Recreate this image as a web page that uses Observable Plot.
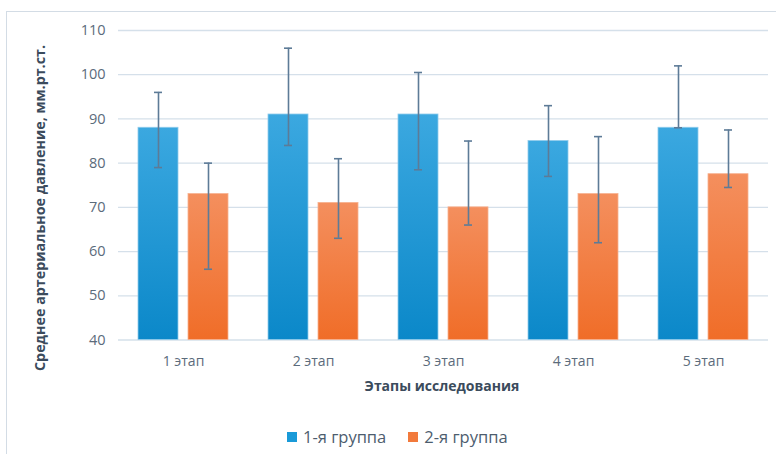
<!DOCTYPE html>
<html><head><meta charset="utf-8">
<script src="https://cdn.jsdelivr.net/npm/d3@7"></script>
<script src="https://cdn.jsdelivr.net/npm/@observablehq/plot@0.6"></script>
<style>
html,body{margin:0;padding:0;background:#fff;overflow:hidden;width:776px;height:454px;font-family:"Open Sans",sans-serif;}
#frame{position:absolute;left:6px;top:11px;width:800px;height:470px;border:1px solid #d3dce5;box-sizing:border-box;}
#chart{position:absolute;left:0;top:0;}
#ytitle{position:absolute;left:39px;top:208px;transform:translate(-50%,-50%) rotate(-90deg);white-space:nowrap;font-weight:700;font-size:14.3px;color:#3b4b5c;}
#xtitle{position:absolute;left:442px;top:385px;transform:translate(-50%,-50%);white-space:nowrap;font-weight:700;font-size:14px;color:#3b4b5c;}
#legend{position:absolute;left:287px;top:425px;display:flex;align-items:center;font-size:16.5px;color:#4d5d6e;}
#legend .sw{display:inline-block;width:10px;height:10px;margin-right:6px;}
#legend .it{display:flex;align-items:center;margin-right:22px;}
</style>
</head><body>
<div id="frame"></div>
<div id="chart"></div>
<div id="ytitle"></div>
<div id="xtitle"></div>
<div id="legend"></div>
<script>
const stages = ["1 этап", "2 этап", "3 этап", "4 этап", "5 этап"];
const groups = ["1-я группа", "2-я группа"];
const mean1 = [88, 91, 91, 85, 88];
const low1  = [79, 84, 78.5, 77, 88];
const high1 = [96, 106, 100.5, 93, 102];
const mean2 = [73, 71, 70, 73, 77.5];
const low2  = [56, 63, 66, 62, 74.5];
const high2 = [80, 81, 85, 86, 87.5];
const yTicks = [40, 50, 60, 70, 80, 90, 100, 110];
const yTitle = "Среднее артериальное давление, мм.рт.ст.";
const xTitle = "Этапы исследования";
const groupColors = ["#1a9ad8", "#f27a3c"];

const rows = [];
stages.forEach((s, i) => {
  rows.push({stage: s, group: groups[0], mean: mean1[i], lo: low1[i], hi: high1[i]});
  rows.push({stage: s, group: groups[1], mean: mean2[i], lo: low2[i], hi: high2[i]});
});

const NS = "http://www.w3.org/2000/svg";
function defs() {
  const d = document.createElementNS(NS, "defs");
  const mk = (id, top, bottom) => {
    const g = document.createElementNS(NS, "linearGradient");
    g.setAttribute("id", id);
    g.setAttribute("x1", "0"); g.setAttribute("y1", "0");
    g.setAttribute("x2", "0"); g.setAttribute("y2", "1");
    const a = document.createElementNS(NS, "stop");
    a.setAttribute("offset", "0"); a.setAttribute("stop-color", top);
    const b = document.createElementNS(NS, "stop");
    b.setAttribute("offset", "1"); b.setAttribute("stop-color", bottom);
    g.appendChild(a); g.appendChild(b); d.appendChild(g);
  };
  mk("gBlue", "#3ba8e0", "#0b88c9");
  mk("gOrange", "#f48f5e", "#f06d28");
  return d;
}

const errColor = "#5d7b97";
const chart = Plot.plot({
  width: 776,
  height: 400,
  marginLeft: 117,
  marginRight: 8,
  marginTop: 30,
  marginBottom: 60.5,
  style: {fontFamily: "'Open Sans', sans-serif", color: "#5b6b7b", background: "transparent"},
  fx: {domain: stages, padding: 0, label: null, axis: null},
  x: {domain: groups, paddingInner: 0.2, paddingOuter: 0.4, axis: null},
  y: {domain: [yTicks[0], yTicks[yTicks.length - 1]], axis: null},
  marks: [
    defs,
    Plot.gridY(yTicks, {stroke: "#d5e0ea", strokeOpacity: 1, strokeWidth: 1.3}),
    Plot.barY(rows.filter(d => d.group === groups[0]), {fx: "stage", x: "group", y1: yTicks[0], y2: "mean", fill: "url(#gBlue)", stroke: "#8fcbeb", strokeWidth: 0.8}),
    Plot.barY(rows.filter(d => d.group === groups[1]), {fx: "stage", x: "group", y1: yTicks[0], y2: "mean", fill: "url(#gOrange)", stroke: "#f7b18f", strokeWidth: 0.8}),
    Plot.ruleX(rows, {fx: "stage", x: "group", y1: "lo", y2: "hi", stroke: errColor, strokeWidth: 1.6}),
    Plot.tickY(rows, {fx: "stage", x: "group", y: "hi", stroke: errColor, strokeWidth: 1.6, insetLeft: 16, insetRight: 16}),
    Plot.tickY(rows, {fx: "stage", x: "group", y: "lo", stroke: errColor, strokeWidth: 1.6, insetLeft: 16, insetRight: 16}),
    Plot.axisY({ticks: yTicks, tickSize: 0, tickPadding: 13, fontSize: 14.5, label: null}),
    Plot.axisFx({anchor: "bottom", tickSize: 0, tickPadding: 16, fontSize: 14, label: null})
  ]
});
document.getElementById("chart").appendChild(chart);
document.getElementById("ytitle").textContent = yTitle;
document.getElementById("xtitle").textContent = xTitle;
const leg = document.getElementById("legend");
groups.forEach((g, i) => {
  const it = document.createElement("span");
  it.className = "it";
  const sw = document.createElement("span");
  sw.className = "sw";
  sw.style.background = groupColors[i];
  it.appendChild(sw);
  it.appendChild(document.createTextNode(g));
  leg.appendChild(it);
});
</script>
</body></html>
